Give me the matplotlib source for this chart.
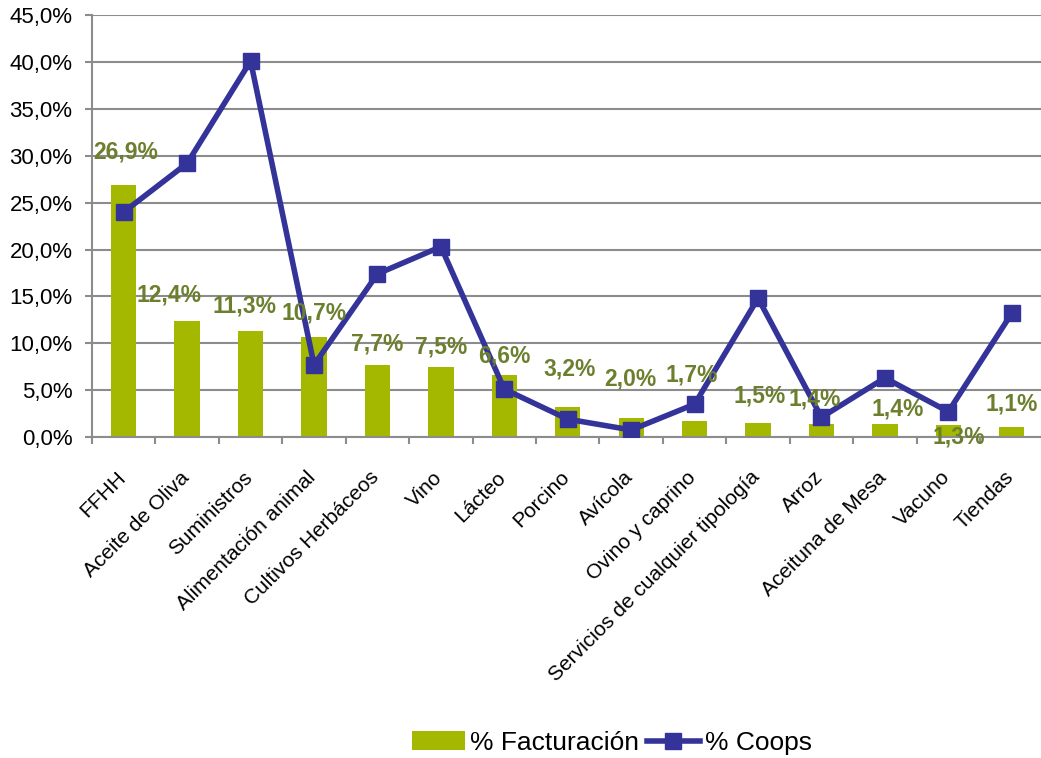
import matplotlib
matplotlib.use("Agg")
import matplotlib.pyplot as plt
import matplotlib.transforms as mtransforms
import numpy as np
from matplotlib.ticker import FuncFormatter, MultipleLocator, FixedLocator

plt.rcParams['font.family'] = ['Liberation Sans', 'DejaVu Sans']

categories = ["FFHH", "Aceite de Oliva", "Suministros", "Alimentación animal",
              "Cultivos Herbáceos", "Vino", "Lácteo", "Porcino", "Avícola",
              "Ovino y caprino", "Servicios de cualquier tipología", "Arroz",
              "Aceituna de Mesa", "Vacuno", "Tiendas"]
facturacion = [26.9, 12.4, 11.3, 10.7, 7.7, 7.5, 6.6, 3.2, 2.0, 1.7, 1.5, 1.4, 1.4, 1.3, 1.1]
coops = [24.0, 29.2, 40.1, 7.7, 17.4, 20.3, 5.1, 1.9, 0.75, 3.5, 14.8, 2.1, 6.3, 2.7, 13.2]

# label offsets (x in category units, y in %) to mimic the original placement
lab_dx = [0.03, -0.28, -0.1, 0.0, 0.0, 0.0, 0.0, 0.03, -0.02, -0.05, 0.02, -0.1, 0.2, 0.17, 0.0]
lab_dy = [3.5, 2.8, 2.7, 2.5, 2.2, 2.1, 2.0, 4.0, 4.2, 4.9, 2.9, 2.6, 1.6, -1.3, 2.4]

fig = plt.figure(figsize=(10.41, 7.58), dpi=100)
ax = fig.add_axes([0.0884, 0.4235, 0.914, 0.5565])

x = np.arange(len(categories))
grid_c = "#8c8c8c"
bars = ax.bar(x, facturacion, width=0.4, color="#A5B800", zorder=2, label="% Facturación")
line, = ax.plot(x, coops, color="#333399", lw=4, marker="s", markersize=11,
                zorder=3, label="% Coops")

for i, v in enumerate(facturacion):
    ax.text(x[i] + lab_dx[i], v + lab_dy[i], f"{v:.1f}%".replace(".", ","),
            ha="center", va="center", fontsize=16.5, fontweight="bold",
            color="#6B7F2E", zorder=4)

ax.set_xlim(-0.5, len(categories) - 0.5)
ax.set_ylim(0, 45)
ax.yaxis.set_major_locator(MultipleLocator(5))
ax.yaxis.set_major_formatter(FuncFormatter(lambda v, p: f"{v:.1f}%".replace(".", ",")))
ax.grid(axis="y", color=grid_c, lw=1.5, zorder=0)
ax.set_axisbelow(True)

ax.set_xticks(x)
ax.set_xticklabels(categories, rotation=45, ha="right", rotation_mode="anchor", fontsize=15)
ax.tick_params(axis="x", which="major", length=0, pad=12)
offset = mtransforms.ScaledTranslation(-8 / 100, -14 / 100, fig.dpi_scale_trans)
for lbl in ax.get_xticklabels():
    lbl.set_transform(lbl.get_transform() + offset)
ax.xaxis.set_minor_locator(FixedLocator(np.arange(-0.5, len(categories), 1)))
ax.tick_params(axis="x", which="minor", length=5, color=grid_c, width=1.5)
ax.tick_params(axis="y", length=5, color=grid_c, width=1.5, labelsize=16, pad=9)

for s in ["top", "right"]:
    ax.spines[s].set_visible(False)
for s in ["left", "bottom"]:
    ax.spines[s].set_color(grid_c)
    ax.spines[s].set_linewidth(1.5)

fig.legend([bars, line], ["% Facturación", "% Coops"], loc="center",
           bbox_to_anchor=(0.588, 0.02),
           ncol=2, frameon=False, fontsize=19, handlelength=2.0,
           handletextpad=0.2, columnspacing=0.3, borderpad=0.1)

fig.savefig("out.png", dpi=100)
